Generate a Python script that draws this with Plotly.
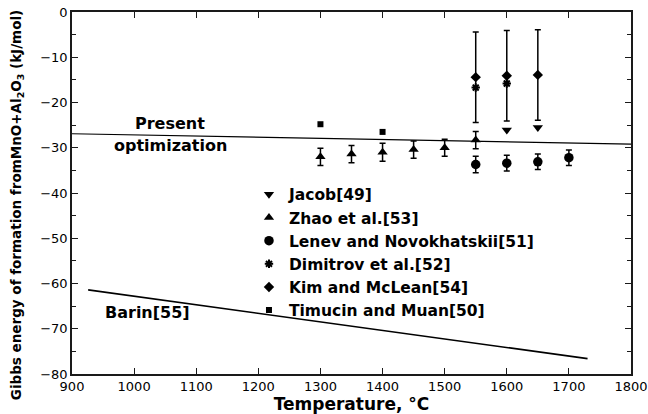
import plotly.graph_objects as go

# Experimental data, Gibbs energy of formation of MnO·Al2O3 from MnO + Al2O3 (kJ/mol)
jacob_T = [1600, 1650]
jacob_G = [-26.1, -25.5]

zhao_T = [1300, 1350, 1400, 1450, 1500, 1550]
zhao_G = [-32.0, -31.4, -31.0, -30.4, -30.0, -28.3]
zhao_err = [1.9, 1.9, 2.0, 1.9, 1.9, 1.9]

lenev_T = [1550, 1600, 1650, 1700]
lenev_G = [-33.7, -33.4, -33.1, -32.2]
lenev_err = [1.8, 1.75, 1.7, 1.7]

dimitrov_T = [1550, 1600]
dimitrov_G = [-16.7, -15.8]

kim_T = [1550, 1600, 1650]
kim_G = [-14.4, -14.1, -13.9]
kim_err = [10.0, 10.0, 10.0]

timucin_T = [1300, 1400]
timucin_G = [-24.8, -26.5]

# Calculated lines
present_T = [900, 1800]
present_G = [-26.9, -29.2]

barin_T = [926, 1730]
barin_G = [-61.4, -76.6]

FONT = "DejaVu Sans, Verdana, sans-serif"
BLACK = "#000000"
AXIS = "#1a1a1a"

fig = go.Figure()

fig.add_trace(go.Scatter(x=present_T, y=present_G, mode="lines",
                         line=dict(color=BLACK, width=1.1), showlegend=False))
fig.add_trace(go.Scatter(x=barin_T, y=barin_G, mode="lines",
                         line=dict(color=BLACK, width=1.6), showlegend=False))


def err(vals):
    return dict(type="data", array=vals, visible=True, color=BLACK,
                thickness=1.5, width=3)


fig.add_trace(go.Scatter(x=jacob_T, y=jacob_G, mode="markers", name="<b>Jacob[49]</b>",
                         marker=dict(symbol="triangle-down", size=9, color=BLACK)))
fig.add_trace(go.Scatter(x=zhao_T, y=zhao_G, mode="markers", name="<b>Zhao et al.[53]</b>",
                         marker=dict(symbol="triangle-up", size=9, color=BLACK),
                         error_y=err(zhao_err)))
fig.add_trace(go.Scatter(x=lenev_T, y=lenev_G, mode="markers",
                         name="<b>Lenev and Novokhatskii[51]</b>",
                         marker=dict(symbol="circle", size=9.5, color=BLACK),
                         error_y=err(lenev_err)))
fig.add_trace(go.Scatter(x=dimitrov_T, y=dimitrov_G, mode="markers",
                         name="<b>Dimitrov et al.[52]</b>",
                         marker=dict(symbol="asterisk-open", size=7, color=BLACK,
                                     line=dict(color=BLACK, width=2))))
fig.add_trace(go.Scatter(x=kim_T, y=kim_G, mode="markers", name="<b>Kim and McLean[54]</b>",
                         marker=dict(symbol="diamond", size=8, color=BLACK),
                         error_y=err(kim_err)))
fig.add_trace(go.Scatter(x=timucin_T, y=timucin_G, mode="markers",
                         name="<b>Timucin and Muan[50]</b>",
                         marker=dict(symbol="square", size=6, color=BLACK)))

label_font = dict(size=16, color=BLACK, family=FONT)
fig.add_annotation(x=1058, y=-24.75, text="<b>Present</b>", showarrow=False, font=label_font)
fig.add_annotation(x=1058, y=-29.6, text="<b>optimization</b>", showarrow=False, font=label_font)
fig.add_annotation(x=1022, y=-66.3, text="<b>Barin[55]</b>", showarrow=False, font=label_font)

# Vertical axis title, placed as a rotated annotation left of the tick labels
fig.add_annotation(xref="paper", yref="paper", x=-0.098, y=0.467,
                   xanchor="center", yanchor="middle", textangle=-90, showarrow=False,
                   text="<b>Gibbs energy of formation fromMnO+Al<sub>2</sub>O<sub>3</sub> (kJ/mol)</b>",
                   font=dict(size=13.5, color=BLACK, family=FONT))

axis_common = dict(showline=True, linecolor=AXIS, linewidth=1.5, mirror="ticks",
                   ticks="inside", tickcolor=AXIS, tickwidth=1.2, ticklen=6,
                   showgrid=False, zeroline=False, automargin=False,
                   tickfont=dict(size=13, color=BLACK, family=FONT))

fig.update_xaxes(range=[900, 1800], dtick=100, tick0=900,
                 title=dict(text="<b>Temperature, °C</b>", standoff=0,
                            font=dict(size=17, color=BLACK, family=FONT)),
                 **axis_common)
fig.update_yaxes(range=[-80, 0], dtick=10,
                 minor=dict(dtick=5, ticks="inside", ticklen=4, tickcolor=AXIS,
                            tickwidth=1.2),
                 **axis_common)

fig.update_layout(
    width=648, height=414,
    margin=dict(l=72, r=17, t=12, b=40),
    paper_bgcolor="white", plot_bgcolor="white",
    font=dict(family=FONT, color=BLACK),
    legend=dict(x=0.3166, y=0.542, xanchor="left", yanchor="top",
                bgcolor="rgba(0,0,0,0)", tracegroupgap=0,
                font=dict(size=15.5, color=BLACK, family=FONT)),
)

fig.write_html("out.html")
